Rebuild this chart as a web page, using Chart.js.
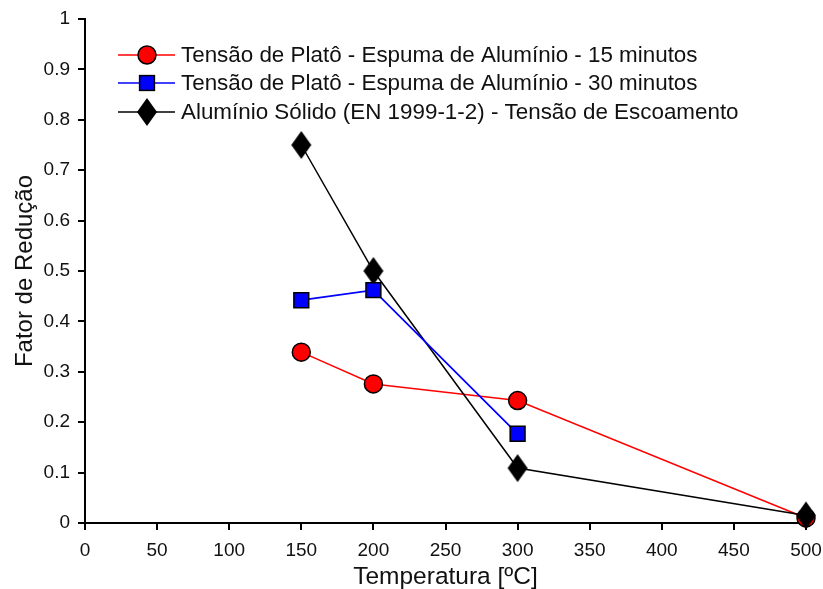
<!DOCTYPE html>
<html><head><meta charset="utf-8">
<script src="https://cdn.jsdelivr.net/npm/chart.js@4/dist/chart.umd.min.js"></script>
<style>html,body{margin:0;padding:0;background:#fff}#wrap{width:823px;height:589px;position:relative}</style>
</head><body><div id="wrap"><canvas id="c"></canvas></div>
<script>
const seriesNames = [
  'Tensão de Platô - Espuma de Alumínio - 15 minutos',
  'Tensão de Platô - Espuma de Alumínio - 30 minutos',
  'Alumínio Sólido (EN 1999-1-2) - Tensão de Escoamento'
];
const temps15 = [150, 200, 300, 500];
const vals15 = [0.339, 0.276, 0.243, 0.010];
const temps30 = [150, 200, 300];
const vals30 = [0.442, 0.462, 0.177];
const tempsSolid = [150, 200, 300, 500];
const valsSolid = [0.750, 0.500, 0.109, 0.015];
const xTicks = [0, 50, 100, 150, 200, 250, 300, 350, 400, 450, 500];
const yTicks = [0, 0.1, 0.2, 0.3, 0.4, 0.5, 0.6, 0.7, 0.8, 0.9, 1];
const xTitle = 'Temperatura [ºC]';
const yTitle = 'Fator de Redução';

const FONT = "'Liberation Sans', Arial, sans-serif";

function diamondCanvas() {
  const c = document.createElement('canvas');
  c.width = 22; c.height = 30;
  const g = c.getContext('2d');
  g.beginPath();
  g.moveTo(11, 1); g.lineTo(21, 15); g.lineTo(11, 29); g.lineTo(1, 15); g.closePath();
  g.fillStyle = '#000'; g.fill();
  return c;
}
const diamond = diamondCanvas();

const pts = (xs, ys) => xs.map((x, i) => ({x: x, y: ys[i]}));

const datasets = [
  {label: seriesNames[0], data: pts(temps15, vals15), borderColor: '#ff0000', borderWidth: 1.5,
   pointStyle: 'circle', pointRadius: 9, pointBackgroundColor: '#ff0000', pointBorderColor: '#000',
   pointBorderWidth: 1.5, order: 3, clip: false},
  {label: seriesNames[1], data: pts(temps30, vals30), borderColor: '#0000ff', borderWidth: 1.8,
   pointStyle: 'rect', pointRadius: 10.5, pointBackgroundColor: '#0000ff', pointBorderColor: '#000',
   pointBorderWidth: 1.5, order: 1, clip: false},
  {label: seriesNames[2], data: pts(tempsSolid, valsSolid), borderColor: '#000', borderWidth: 1.5,
   pointStyle: diamond, pointRadius: 12, pointBackgroundColor: '#000', pointBorderColor: '#000',
   pointBorderWidth: 0, order: 2, clip: false}
];
datasets.forEach(d => { d.tension = 0; d.fill = false; d.showLine = true; });

const legendPlugin = {
  id: 'innerLegend',
  afterDraw(chart) {
    const ctx = chart.ctx;
    const rows = [55, 83, 112];
    const x0 = 118, x1 = 175, xm = 147;
    ctx.save();
    datasets.forEach((d, i) => {
      const y = rows[i];
      ctx.strokeStyle = d.borderColor; ctx.lineWidth = 1.5;
      ctx.beginPath(); ctx.moveTo(x0, y); ctx.lineTo(x1, y); ctx.stroke();
      if (i === 0) {
        ctx.beginPath(); ctx.arc(xm, y, 9, 0, Math.PI * 2);
        ctx.fillStyle = '#ff0000'; ctx.fill();
        ctx.lineWidth = 1.5; ctx.strokeStyle = '#000'; ctx.stroke();
      } else if (i === 1) {
        const s = 7.4;
        ctx.fillStyle = '#0000ff'; ctx.fillRect(xm - s, y - s, 2 * s, 2 * s);
        ctx.lineWidth = 1.5; ctx.strokeStyle = '#000'; ctx.strokeRect(xm - s, y - s, 2 * s, 2 * s);
      } else {
        ctx.drawImage(diamond, xm - diamond.width / 2, y - diamond.height / 2);
      }
      ctx.fillStyle = '#111';
      ctx.font = '22.4px ' + FONT;
      ctx.textBaseline = 'middle';
      ctx.textAlign = 'left';
      ctx.fillText(d.label, 181, y + 1);
    });
    ctx.restore();
  }
};

new Chart(document.getElementById('c'), {
  type: 'line',
  data: {datasets: datasets},
  plugins: [legendPlugin],
  options: {
    responsive: true, maintainAspectRatio: false, animation: false,
    layout: {padding: {top: 19, right: 17, left: 0, bottom: 0}},
    plugins: {legend: {display: false}, tooltip: {enabled: false}},
    scales: {
      x: {
        type: 'linear', min: 0, max: 500,
        afterBuildTicks: s => { s.ticks = xTicks.map(v => ({value: v})); },
        afterFit: s => { s.height = 66; s.paddingLeft = 0; s.paddingRight = 0; },
        ticks: {color: '#111', font: {family: FONT, size: 19}, padding: 9, maxRotation: 0, autoSkip: false},
        grid: {drawOnChartArea: false, tickLength: 7, tickWidth: 2, tickColor: '#000', lineWidth: 2},
        border: {color: '#000', width: 2},
        title: {display: true, text: xTitle, color: '#111', font: {family: FONT, size: 24.5, lineHeight: 1}, padding: {top: 0, bottom: 0}}
      },
      y: {
        type: 'linear', min: 0, max: 1,
        afterBuildTicks: s => { s.ticks = yTicks.map(v => ({value: v})); },
        afterFit: s => { s.width = 85; s.paddingTop = 0; s.paddingBottom = 0; },
        ticks: {color: '#111', font: {family: FONT, size: 19}, padding: 8, autoSkip: false,
                callback: v => String(Math.round(v * 10) / 10)},
        grid: {drawOnChartArea: false, tickLength: 7, tickWidth: 2, tickColor: '#000', lineWidth: 2},
        border: {color: '#000', width: 2},
        title: {display: true, text: yTitle, color: '#111', font: {family: FONT, size: 24, lineHeight: 1}, padding: {top: 13, bottom: 0}}
      }
    }
  }
});
</script></body></html>
